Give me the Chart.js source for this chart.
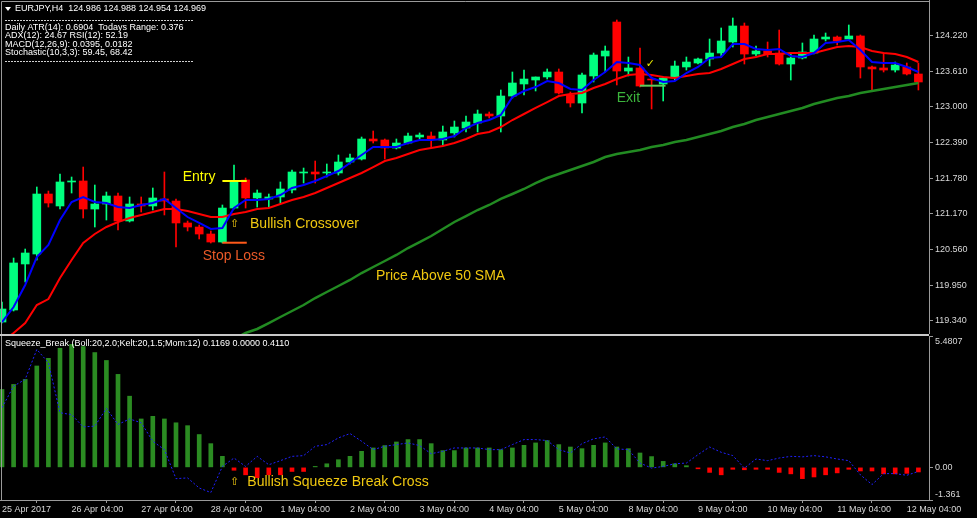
<!DOCTYPE html>
<html lang="en">
<head>
  <meta charset="UTF-8" />
  <title>EURJPY,H4</title>
  <script src="https://cdn.jsdelivr.net/npm/chart.js"></script>
  <style>
    html, body { margin: 0; padding: 0; background: #000; }
    body { width: 977px; height: 518px; position: relative; overflow: hidden; }
    canvas { position: absolute; left: 0; display: block; }
    #mainChart { top: 0; }
    #subChart { top: 334px; }
  </style>
</head>
<body>
  <canvas id="mainChart" width="977" height="334"></canvas>
  <canvas id="subChart" width="977" height="184"></canvas>

  <script>
    // H4 bars, index 0 = 25 Apr 04:00 ... index 79 = 12 May 08:00
    const opens = [119.317,119.523,120.311,120.482,121.509,121.304,121.715,121.732,121.252,121.338,
      121.475,121.047,121.338,121.304,121.424,121.389,121.013,120.944,120.824,120.687,
      121.269,121.749,121.441,121.424,121.458,121.578,121.869,121.886,121.869,121.869,
      122.057,122.108,122.451,122.434,122.297,122.382,122.485,122.502,122.434,122.554,
      122.639,122.725,122.879,122.845,123.187,123.393,123.461,123.513,123.598,123.204,
      123.067,123.530,123.872,124.454,123.615,123.667,123.478,123.393,123.495,123.684,
      123.752,123.821,123.923,124.112,124.386,123.906,123.958,123.923,123.735,123.838,
      123.923,124.163,124.197,124.163,124.215,123.684,123.667,123.632,123.684,123.564];
    const highs = [119.660,120.413,120.567,121.629,121.560,121.852,121.800,121.971,121.663,121.543,
      121.526,121.458,121.458,121.612,121.886,121.424,121.047,120.978,120.876,121.321,
      122.006,121.783,121.578,121.509,121.715,121.920,121.954,122.074,122.023,122.177,
      122.194,122.485,122.588,122.451,122.451,122.554,122.554,122.571,122.673,122.759,
      122.845,122.947,122.913,123.290,123.598,123.632,123.513,123.650,123.650,123.256,
      123.581,123.923,124.043,124.489,123.855,124.009,123.513,123.513,123.786,123.855,
      123.838,124.163,124.352,124.523,124.437,124.043,124.112,124.317,123.923,124.095,
      124.232,124.266,124.215,124.403,124.232,123.701,123.923,123.769,123.752,123.752];
    const lows = [119.300,119.506,120.002,120.379,121.286,121.252,121.526,121.098,120.944,121.064,
      120.893,121.030,121.201,121.235,121.150,120.602,120.876,120.739,120.670,120.670,
      121.252,121.269,121.286,121.286,121.355,121.526,121.697,121.697,121.800,121.834,
      122.023,122.091,122.382,122.108,122.280,122.365,122.451,122.314,122.348,122.485,
      122.571,122.571,122.810,122.571,123.153,123.204,123.273,123.478,123.221,122.999,
      122.896,123.427,123.598,123.376,123.530,123.341,122.965,123.102,123.461,123.632,
      123.735,123.701,123.855,124.026,123.735,123.872,123.855,123.718,123.461,123.821,
      123.906,124.129,124.060,124.146,123.495,123.290,123.598,123.598,123.547,123.290];
    const closes = [119.540,120.328,120.499,121.509,121.355,121.715,121.732,121.252,121.338,121.475,
      121.047,121.338,121.304,121.441,121.389,121.013,120.944,120.824,120.687,121.269,
      121.732,121.441,121.526,121.458,121.595,121.886,121.886,121.852,121.886,122.057,
      122.126,122.451,122.417,122.297,122.382,122.502,122.519,122.451,122.571,122.656,
      122.742,122.879,122.845,123.187,123.410,123.478,123.513,123.598,123.239,123.067,
      123.547,123.889,123.958,123.615,123.667,123.358,123.461,123.495,123.701,123.769,
      123.821,123.923,124.129,124.386,123.906,123.958,123.906,123.735,123.838,123.941,
      124.163,124.197,124.129,124.215,123.684,123.650,123.632,123.718,123.564,123.427];

    // moving averages as they appear on the chart
    const emaFast = [119.317,119.574,119.951,120.430,120.636,121.064,121.372,121.458,121.372,121.355,
      121.286,121.269,121.321,121.355,121.424,121.269,121.115,121.013,120.910,120.927,
      121.269,121.406,121.406,121.424,121.492,121.612,121.663,121.732,121.817,121.903,
      122.040,122.177,122.314,122.314,122.314,122.382,122.434,122.434,122.451,122.502,
      122.639,122.725,122.776,122.862,123.170,123.273,123.341,123.444,123.410,123.307,
      123.290,123.461,123.598,123.769,123.752,123.718,123.495,123.427,123.444,123.581,
      123.684,123.838,123.855,124.078,124.078,123.992,123.975,123.992,123.872,123.855,
      123.923,124.095,124.112,124.146,123.975,123.769,123.752,123.752,123.684,123.598];
    const emaSlow = [118.975,119.129,119.300,119.608,119.711,120.071,120.379,120.670,120.824,120.944,
      121.030,121.098,121.150,121.201,121.252,121.252,121.218,121.167,121.115,121.115,
      121.167,121.201,121.252,121.269,121.338,121.406,121.458,121.526,121.612,121.697,
      121.783,121.869,121.971,122.074,122.126,122.194,122.263,122.297,122.331,122.382,
      122.451,122.537,122.571,122.656,122.776,122.879,122.982,123.084,123.187,123.221,
      123.239,123.324,123.393,123.478,123.547,123.564,123.547,123.513,123.495,123.530,
      123.564,123.581,123.650,123.735,123.821,123.855,123.906,123.906,123.923,123.923,
      123.923,123.975,124.026,124.043,124.026,123.958,123.923,123.906,123.855,123.769];
    const sma50 = [null,null,null,null,null,null,null,null,null,null,
      null,null,null,null,null,null,null,null,null,118.924,
      119.026,119.129,119.198,119.300,119.403,119.506,119.608,119.728,119.831,119.934,
      120.037,120.156,120.259,120.362,120.465,120.584,120.687,120.790,120.910,121.030,
      121.132,121.235,121.321,121.424,121.509,121.595,121.697,121.783,121.852,121.920,
      121.989,122.057,122.143,122.194,122.228,122.263,122.314,122.348,122.400,122.434,
      122.485,122.537,122.588,122.656,122.708,122.776,122.828,122.879,122.930,122.982,
      123.050,123.102,123.153,123.187,123.239,123.273,123.307,123.341,123.376,123.410];

    // Squeeze_Break sub window
    const squeezeHist = [3.25,3.46,3.67,4.23,4.55,4.97,5.13,5.04,4.79,4.46,
      3.88,2.97,2.02,2.13,2.02,1.86,1.74,1.37,0.99,0.46,
      -0.12,-0.31,-0.43,-0.31,-0.31,-0.17,-0.17,0.04,0.15,0.32,
      0.46,0.67,0.81,0.91,1.06,1.16,1.16,0.99,0.70,0.70,
      0.81,0.81,0.81,0.74,0.81,0.92,1.02,1.12,0.95,0.85,
      0.78,0.92,1.02,0.85,0.78,0.60,0.45,0.25,0.15,0.07,
      -0.06,-0.21,-0.31,-0.08,-0.10,-0.08,-0.08,-0.21,-0.27,-0.47,
      -0.40,-0.31,-0.23,-0.08,-0.15,-0.15,-0.27,-0.27,-0.25,-0.19];
    const squeezeSignal = [2.49,3.39,3.67,4.92,4.37,2.28,2.20,1.69,1.72,2.46,
      1.79,2.02,1.86,1.09,0.74,-0.47,-0.44,-0.86,-1.05,0.04,
      0.39,0.04,0.46,0.11,0.28,0.46,0.49,0.88,0.95,1.23,
      1.41,1.09,0.74,0.88,0.95,1.02,0.91,0.57,0.67,0.81,
      0.81,0.81,0.74,0.74,0.95,1.16,1.16,1.12,0.74,0.60,
      0.99,1.19,1.27,0.77,0.74,0.18,-0.03,0.04,0.15,0.18,
      0.53,0.85,0.63,0.49,-0.03,0.35,0.28,0.39,0.46,0.44,
      0.49,0.44,0.35,0.28,-0.31,-0.72,-0.26,-0.26,-0.33,-0.17];

    // axes
    const priceTicks = [124.220, 123.610, 123.000, 122.390, 121.780, 121.170, 120.560, 119.950, 119.340];
    const squeezeTicks = [-1.361, 0, 5.4807];
    const squeezeTickLabels = ['-1.361', '0.00', '5.4807'];
    const timeTicks = [0, 6, 12, 18, 24, 30, 36, 42, 48, 54, 60, 66, 72, 78];
    const timeLabels = ['25 Apr 2017', '26 Apr 04:00', '27 Apr 04:00', '28 Apr 04:00', '1 May 04:00',
      '2 May 04:00', '3 May 04:00', '4 May 04:00', '5 May 04:00', '8 May 04:00', '9 May 04:00',
      '10 May 04:00', '11 May 04:00', '12 May 04:00'];

    // trade levels drawn on the price window
    const entryBars = [19, 21.1], entryPrice = 121.732;
    const stopBars = [19, 21.1], stopPrice = 120.675;
    const exitBars = [55, 57.2], exitPrice = 123.364;

    // text notes (bar position, price/value)
    const priceNotes = ['Entry', '\u21E7', 'Bullish Crossover', 'Stop Loss', 'Price Above 50 SMA', 'Exit', '\u2713'];
    const priceNoteBars = [15.58, 19.66, 21.38, 17.3, 32.24, 52.99, 55.5];
    const priceNoteValues = [121.800, 120.990, 120.990, 120.453, 120.105, 123.144, 123.735];
    const subNotes = ['\u21E7', 'Bullish Squeeze Break Cross'];
    const subNoteBars = [19.66, 21.15];
    const subNoteValues = [-0.63, -0.63];

    const headerTitle = 'EURJPY,H4  124.986 124.988 124.954 124.969';
    const headerLines = ['Daily ATR(14): 0.6904  Todays Range: 0.376', 'ADX(12): 24.67 RSI(12): 52.19',
      'MACD(12,26,9): 0.0395, 0.0182', 'Stochastic(10,3,3): 59.45, 68.42'];
    const subTitle = 'Squeeze_Break (Boll:20,2.0;Kelt:20,1.5;Mom:12) 0.1169 0.0000 0.4110';

    Chart.defaults.font.family = '"Liberation Sans", Arial, sans-serif';
    Chart.defaults.font.size = 9;
    Chart.defaults.color = '#d8d8d8';

    const BULL = '#00ff7f', BEAR = '#ff0000', AXIS = '#9a9a9a';
    const xMin = -0.1724, xMax = 79.914;
    const idx = opens.map((_, i) => i);
    const candleColors = idx.map(i => closes[i] >= opens[i] ? BULL : BEAR);
    const smallFont = '9px "Liberation Sans", Arial, sans-serif';
    const noteFont = '14px "Liberation Sans", Arial, sans-serif';
    const glyphFont = '11px "DejaVu Sans", sans-serif';

    const noteColor = t => {
      if (t === 'Entry') return '#ffff00';
      if (t === 'Stop Loss') return '#eb5a28';
      if (t === 'Exit') return '#3cb43c';
      if (t === '\u2713') return '#e8e800';
      return '#f0c810';
    };

    const drawNotes = (chart, texts, bars, values) => {
      const { ctx, scales: { x, y } } = chart;
      ctx.textAlign = 'left';
      ctx.textBaseline = 'middle';
      texts.forEach((t, i) => {
        ctx.font = t.length === 1 ? glyphFont : noteFont;
        ctx.fillStyle = noteColor(t);
        ctx.fillText(t, x.getPixelForValue(bars[i]), y.getPixelForValue(values[i]));
      });
    };

    const mainOverlay = {
      id: 'mainOverlay',
      afterDraw(chart) {
        const { ctx, chartArea: a } = chart;
        ctx.save();
        ctx.strokeStyle = AXIS;
        ctx.lineWidth = 1;
        ctx.beginPath();
        ctx.moveTo(1.5, a.bottom);
        ctx.lineTo(1.5, 1.5);
        ctx.lineTo(a.right, 1.5);
        ctx.stroke();

        ctx.fillStyle = '#ffffff';
        ctx.beginPath();
        ctx.moveTo(5, 7); ctx.lineTo(11, 7); ctx.lineTo(8, 11);
        ctx.fill();
        ctx.font = smallFont;
        ctx.textBaseline = 'middle';
        ctx.fillText(headerTitle, 15, 8.5);
        headerLines.forEach((t, i) => ctx.fillText(t, 5, 27.5 + i * 8.3));

        ctx.strokeStyle = '#d0d0d0';
        ctx.setLineDash([2, 1]);
        [20.5, 61.5].forEach(yy => {
          ctx.beginPath(); ctx.moveTo(5, yy); ctx.lineTo(193, yy); ctx.stroke();
        });
        ctx.setLineDash([]);

        drawNotes(chart, priceNotes, priceNoteBars, priceNoteValues);
        ctx.restore();
      }
    };

    const subOverlay = {
      id: 'subOverlay',
      afterDraw(chart) {
        const { ctx, chartArea: a } = chart;
        ctx.save();
        ctx.fillStyle = '#c8c8c8';
        ctx.fillRect(0, 0, a.right, 2);
        ctx.strokeStyle = AXIS;
        ctx.lineWidth = 1;
        ctx.beginPath();
        ctx.moveTo(1.5, a.top); ctx.lineTo(1.5, a.bottom);
        ctx.stroke();

        ctx.fillStyle = '#ffffff';
        ctx.font = smallFont;
        ctx.textBaseline = 'middle';
        ctx.fillText(subTitle, 5, 9.7);

        drawNotes(chart, subNotes, subNoteBars, subNoteValues);
        ctx.restore();
      }
    };

    const fixedY = s => { s.width = 48; s.paddingTop = 0; s.paddingBottom = 0; };
    const lineSet = (label, values, color, width, order) => ({
      type: 'line', label, order,
      data: idx.filter(i => values[i] !== null).map(i => ({ x: i, y: values[i] })),
      borderColor: color, borderWidth: width, pointRadius: 0, tension: 0
    });
    const levelSet = (label, bars, price, color) => ({
      type: 'line', label, order: 0,
      data: bars.map(b => ({ x: b, y: price })),
      borderColor: color, borderWidth: 2, pointRadius: 0
    });

    new Chart(document.getElementById('mainChart'), {
      type: 'bar',
      data: {
        datasets: [
          { label: 'wick', data: idx.map(i => ({ x: i, y: [lows[i], highs[i]] })),
            backgroundColor: candleColors, barThickness: 1, grouped: false, order: 3 },
          { label: 'body', data: idx.map(i => ({ x: i, y: [opens[i], closes[i]] })),
            backgroundColor: candleColors, barThickness: 8, minBarLength: 1, grouped: false, order: 2 },
          lineSet('SMA 50', sma50, '#228b22', 2.5, 1),
          lineSet('EMA slow', emaSlow, '#ff0000', 2, 1),
          lineSet('EMA fast', emaFast, '#0000ff', 2, 0),
          levelSet('Entry', entryBars, entryPrice, '#ffff00'),
          levelSet('Stop Loss', stopBars, stopPrice, '#ff5a1a'),
          levelSet('Exit', exitBars, exitPrice, '#5ccc5c')
        ]
      },
      options: {
        responsive: false,
        animation: false,
        events: [],
        layout: { padding: 0 },
        plugins: { legend: { display: false }, tooltip: { enabled: false } },
        scales: {
          x: { type: 'linear', min: xMin, max: xMax, offset: false, display: false },
          y: {
            type: 'linear', position: 'right', min: 119.112, max: 124.831,
            afterBuildTicks: s => { s.ticks = priceTicks.map(v => ({ value: v })); },
            afterFit: fixedY,
            ticks: { callback: v => v.toFixed(3), padding: 2 },
            grid: { drawOnChartArea: false, tickLength: 4, color: AXIS },
            border: { color: AXIS }
          }
        }
      },
      plugins: [mainOverlay]
    });

    new Chart(document.getElementById('subChart'), {
      type: 'bar',
      data: {
        datasets: [
          { type: 'line', label: 'signal', order: 0,
            data: idx.map(i => ({ x: i, y: squeezeSignal[i] })),
            borderColor: '#2020ff', borderWidth: 1, borderDash: [2, 2], pointRadius: 0 },
          { label: 'momentum', order: 1,
            data: idx.map(i => ({ x: i, y: squeezeHist[i] })),
            backgroundColor: squeezeHist.map(v => v >= 0 ? '#2b8c22' : '#ff0000'),
            barThickness: 4, grouped: false }
        ]
      },
      options: {
        responsive: false,
        animation: false,
        events: [],
        layout: { padding: { top: 2 } },
        plugins: { legend: { display: false }, tooltip: { enabled: false } },
        scales: {
          x: {
            type: 'linear', min: xMin, max: xMax, offset: false,
            afterBuildTicks: s => { s.ticks = timeTicks.map(v => ({ value: v })); },
            afterFit: s => { s.height = 18; s.paddingLeft = 0; s.paddingRight = 0; },
            ticks: { autoSkip: false, maxRotation: 0, align: 'start', padding: 1,
              callback: (v, i) => timeLabels[i] },
            grid: { drawOnChartArea: false, tickLength: 3, color: AXIS },
            border: { color: AXIS }
          },
          y: {
            type: 'linear', position: 'right', min: -1.361, max: 5.4807,
            afterBuildTicks: s => { s.ticks = squeezeTicks.map(v => ({ value: v })); },
            afterFit: fixedY,
            ticks: {
              padding: 2,
              callback: (v, i) => i === 0 ? [squeezeTickLabels[i], ''] :
                i === squeezeTicks.length - 1 ? ['', squeezeTickLabels[i]] : squeezeTickLabels[i]
            },
            grid: { drawOnChartArea: false, tickLength: 4, color: AXIS },
            border: { color: AXIS }
          }
        }
      },
      plugins: [subOverlay]
    });
  </script>
</body>
</html>
